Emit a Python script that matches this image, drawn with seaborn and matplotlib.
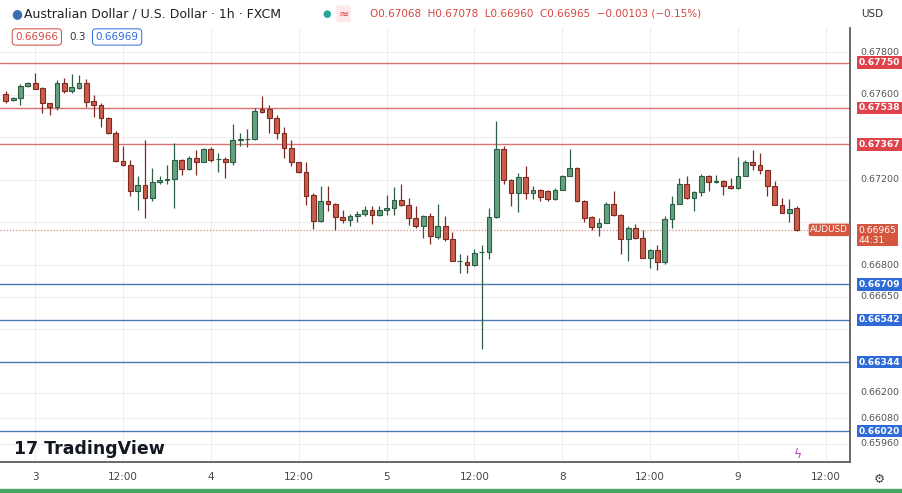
import matplotlib
matplotlib.use("Agg")
import matplotlib.pyplot as plt
import numpy as np
import seaborn as sns

# hourly OHLC, AUD/USD, FXCM
opens = [0.67603, 0.67573, 0.67583, 0.67640, 0.67656, 0.67629, 0.67559, 0.67544, 0.67653, 0.67618,
         0.67631, 0.67653, 0.67569, 0.67551, 0.67489, 0.67419, 0.67289, 0.67269, 0.67146, 0.67177,
         0.67115, 0.67188, 0.67200, 0.67204, 0.67294, 0.67250, 0.67303, 0.67286, 0.67344, 0.67297,
         0.67297, 0.67282, 0.67385, 0.67391, 0.67391, 0.67531, 0.67531, 0.67489, 0.67422, 0.67349,
         0.67282, 0.67235, 0.67130, 0.67005, 0.67101, 0.67088, 0.67026, 0.67010, 0.67032, 0.67041,
         0.67057, 0.67035, 0.67057, 0.67068, 0.67107, 0.67080, 0.67021, 0.66982, 0.67032, 0.66932,
         0.66982, 0.66923, 0.66818, 0.66815, 0.66800, 0.66860, 0.66860, 0.67026, 0.67344, 0.67201,
         0.67138, 0.67213, 0.67138, 0.67154, 0.67149, 0.67110, 0.67154, 0.67219, 0.67255, 0.67099,
         0.67026, 0.66979, 0.66998, 0.67088, 0.67035, 0.66923, 0.66974, 0.66928, 0.66834, 0.66870,
         0.66815, 0.67017, 0.67088, 0.67180, 0.67115, 0.67143, 0.67219, 0.67191, 0.67194, 0.67169,
         0.67162, 0.67219, 0.67282, 0.67269, 0.67244, 0.67169, 0.67084, 0.67045, 0.67068]
highs = [0.67618, 0.67587, 0.67650, 0.67659, 0.67700, 0.67637, 0.67562, 0.67668, 0.67676, 0.67696,
         0.67692, 0.67672, 0.67598, 0.67559, 0.67494, 0.67427, 0.67360, 0.67294, 0.67216, 0.67388,
         0.67255, 0.67216, 0.67271, 0.67372, 0.67297, 0.67310, 0.67341, 0.67349, 0.67353, 0.67328,
         0.67306, 0.67462, 0.67419, 0.67438, 0.67536, 0.67594, 0.67551, 0.67505, 0.67450, 0.67388,
         0.67286, 0.67282, 0.67138, 0.67172, 0.67169, 0.67091, 0.67060, 0.67041, 0.67052, 0.67076,
         0.67079, 0.67076, 0.67130, 0.67166, 0.67182, 0.67115, 0.67076, 0.67037, 0.67044, 0.67088,
         0.67029, 0.66954, 0.66854, 0.66845, 0.66876, 0.66893, 0.67068, 0.67474, 0.67360, 0.67204,
         0.67232, 0.67266, 0.67173, 0.67157, 0.67154, 0.67162, 0.67224, 0.67344, 0.67258, 0.67107,
         0.67032, 0.67021, 0.67095, 0.67146, 0.67038, 0.66985, 0.66992, 0.66963, 0.66876, 0.66892,
         0.67029, 0.67123, 0.67208, 0.67216, 0.67148, 0.67229, 0.67222, 0.67224, 0.67197, 0.67208,
         0.67307, 0.67291, 0.67341, 0.67325, 0.67247, 0.67193, 0.67115, 0.67110, 0.67078]
lows = [0.67562, 0.67569, 0.67551, 0.67637, 0.67625, 0.67515, 0.67505, 0.67528, 0.67609, 0.67606,
        0.67628, 0.67544, 0.67494, 0.67450, 0.67416, 0.67286, 0.67263, 0.67122, 0.67060, 0.67021,
        0.67099, 0.67182, 0.67182, 0.67068, 0.67224, 0.67244, 0.67224, 0.67282, 0.67282, 0.67235,
        0.67208, 0.67271, 0.67360, 0.67356, 0.67388, 0.67512, 0.67422, 0.67391, 0.67302, 0.67266,
        0.67232, 0.67083, 0.66970, 0.67001, 0.67052, 0.66963, 0.66998, 0.66982, 0.67001, 0.67029,
        0.66993, 0.67032, 0.67037, 0.67035, 0.67076, 0.66990, 0.66974, 0.66927, 0.66899, 0.66923,
        0.66912, 0.66818, 0.66764, 0.66764, 0.66797, 0.66405, 0.66829, 0.67021, 0.67182, 0.67076,
        0.67048, 0.67110, 0.67110, 0.67099, 0.67099, 0.67107, 0.67151, 0.67216, 0.67096, 0.67001,
        0.66963, 0.66938, 0.66995, 0.67032, 0.66850, 0.66818, 0.66924, 0.66831, 0.66787, 0.66776,
        0.66803, 0.66974, 0.67085, 0.67112, 0.67052, 0.67123, 0.67146, 0.67185, 0.67130, 0.67158,
        0.67158, 0.67216, 0.67247, 0.67229, 0.67123, 0.67080, 0.67042, 0.67001, 0.66960]
closes = [0.67572, 0.67583, 0.67640, 0.67656, 0.67628, 0.67559, 0.67544, 0.67653, 0.67618, 0.67634,
          0.67653, 0.67567, 0.67551, 0.67489, 0.67419, 0.67289, 0.67269, 0.67146, 0.67177, 0.67115,
          0.67188, 0.67200, 0.67204, 0.67294, 0.67250, 0.67303, 0.67286, 0.67344, 0.67294, 0.67297,
          0.67285, 0.67385, 0.67391, 0.67391, 0.67523, 0.67520, 0.67489, 0.67422, 0.67349, 0.67282,
          0.67235, 0.67126, 0.67005, 0.67101, 0.67088, 0.67026, 0.67010, 0.67032, 0.67041, 0.67060,
          0.67035, 0.67057, 0.67068, 0.67107, 0.67080, 0.67021, 0.66982, 0.67032, 0.66935, 0.66982,
          0.66923, 0.66818, 0.66818, 0.66800, 0.66857, 0.66860, 0.67026, 0.67344, 0.67201, 0.67138,
          0.67213, 0.67138, 0.67154, 0.67119, 0.67110, 0.67154, 0.67219, 0.67255, 0.67099, 0.67021,
          0.66979, 0.66998, 0.67088, 0.67035, 0.66923, 0.66974, 0.66928, 0.66834, 0.66870, 0.66815,
          0.67017, 0.67088, 0.67180, 0.67115, 0.67143, 0.67219, 0.67188, 0.67191, 0.67169, 0.67162,
          0.67219, 0.67282, 0.67269, 0.67244, 0.67169, 0.67084, 0.67045, 0.67065, 0.66965]

resistance = [0.67750, 0.67538, 0.67367]
support = [0.66709, 0.66542, 0.66344, 0.66020]
last_price = 0.66965
# tick labels that sit clear of the level tags
y_ticks = [0.67800, 0.67600, 0.67200, 0.66800, 0.66650, 0.66200, 0.66080, 0.65960]
grid_levels = [0.67800, 0.67600, 0.67400, 0.67200, 0.67000, 0.66800, 0.66650, 0.66500,
               0.66200, 0.66080, 0.65960]
x_tick_pos = [4, 16, 28, 40, 52, 64, 76, 88, 100, 112]
x_tick_labels = ["3", "12:00", "4", "12:00", "5", "12:00", "8", "12:00", "9", "12:00"]

UP, UP_EDGE = "#64a180", "#2d5e44"
DOWN, DOWN_EDGE = "#c95c4a", "#7d2b20"
RED_LINE, BLUE_LINE = "#d9736f", "#4a76b8"
RED_TAG, BLUE_TAG = "#e0424c", "#2e6bd8"

sns.set_theme(style="white")
plt.rcParams["font.family"] = ["DejaVu Sans"]

fig = plt.figure(figsize=(9.02, 4.93), dpi=100)
ax = fig.add_axes([0, 31 / 493, 850 / 902, 434 / 493])

o = np.array(opens)
c = np.array(closes)
h = np.array(highs)
l = np.array(lows)
idx = np.arange(len(o))
up = c >= o

ax.vlines(idx[up], l[up], h[up], color=UP_EDGE, lw=0.9, zorder=3)
ax.vlines(idx[~up], l[~up], h[~up], color=DOWN_EDGE, lw=0.9, zorder=3)
body_lo = np.minimum(o, c)
body_h = np.maximum(np.abs(c - o), 0.000012)
ax.bar(idx[up], body_h[up], bottom=body_lo[up], width=0.65, color=UP,
       edgecolor=UP_EDGE, lw=0.8, zorder=4)
ax.bar(idx[~up], body_h[~up], bottom=body_lo[~up], width=0.65, color=DOWN,
       edgecolor=DOWN_EDGE, lw=0.8, zorder=4)

for p in resistance:
    ax.axhline(p, color=RED_LINE, lw=1.0, zorder=2)
for p in support:
    ax.axhline(p, color=BLUE_LINE, lw=1.0, zorder=2)
ax.axhline(last_price, color="#d98b80", lw=0.9, ls=(0, (1, 1.5)), zorder=2)

for p in grid_levels:
    ax.axhline(p, color="#eeeeee", lw=0.8, zorder=1)
for x in x_tick_pos:
    ax.axvline(x, color="#eeeeee", lw=0.8, zorder=1)

ax.set_xlim(-0.8, 115.3)
ax.set_ylim(0.65875, 0.67913)
ax.set_xticks([])
ax.set_yticks([])
for s in ["top", "left"]:
    ax.spines[s].set_visible(False)
ax.spines["right"].set_color("#555555")
ax.spines["bottom"].set_color("#555555")

# right price scale
tr = ax.get_yaxis_transform()
for p in y_ticks:
    ax.text(1.012, p, f"{p:.5f}", transform=tr, fontsize=6.8, color="#555555",
            va="center", ha="left", clip_on=False)
for p in resistance:
    ax.text(1.01, p, f"{p:.5f}", transform=tr, fontsize=6.6, color="white", va="center",
            ha="left", fontweight="bold", clip_on=False,
            bbox=dict(boxstyle="square,pad=0.2", fc=RED_TAG, ec="none"))
for p in support:
    ax.text(1.01, p, f"{p:.5f}", transform=tr, fontsize=6.6, color="white", va="center",
            ha="left", fontweight="bold", clip_on=False,
            bbox=dict(boxstyle="square,pad=0.2", fc=BLUE_TAG, ec="none"))
ax.text(1.01, last_price - 0.00025, f"{last_price:.5f}\n44:31", transform=tr, fontsize=6.6,
        color="white", va="center", ha="left", clip_on=False, linespacing=1.1,
        bbox=dict(boxstyle="square,pad=0.2", fc="#d4563f", ec="none"))
ax.text(0.998, last_price, "AUDUSD", transform=tr, fontsize=6.3, color="white",
        va="center", ha="right", clip_on=False,
        bbox=dict(boxstyle="round,pad=0.2", fc="#d4563f", ec="none"))

# time axis
xt = ax.get_xaxis_transform()
for x, lab in zip(x_tick_pos, x_tick_labels):
    ax.text(x, -0.035, lab, transform=xt, fontsize=7.5, color="#444444",
            ha="center", va="center", clip_on=False)

# header
fig.text(0.027, 0.972, "Australian Dollar / U.S. Dollar · 1h · FXCM", fontsize=9,
         color="#222222", va="center")
fig.text(0.012, 0.972, "●", fontsize=9, color="#3b6fb0", va="center")
fig.text(0.357, 0.972, "●", fontsize=7, color="#26a69a", va="center")
fig.text(0.375, 0.972, "≈", fontsize=9, color="#e0424c", va="center",
         bbox=dict(boxstyle="round,pad=0.15", fc="#fde8e8", ec="none"))
fig.text(0.41, 0.972, "O0.67068  H0.67078  L0.66960  C0.66965  −0.00103 (−0.15%)",
         fontsize=7.5, color="#d4463f", va="center")
fig.text(0.017, 0.925, "0.66966", fontsize=7.5, color="#d4463f", va="center",
         bbox=dict(boxstyle="round,pad=0.3", fc="white", ec="#d4463f", lw=0.7))
fig.text(0.077, 0.925, "0.3", fontsize=7.5, color="#333333", va="center")
fig.text(0.106, 0.925, "0.66969", fontsize=7.5, color="#2e6bd8", va="center",
         bbox=dict(boxstyle="round,pad=0.3", fc="white", ec="#2e6bd8", lw=0.7))
fig.text(0.955, 0.972, "USD", fontsize=7.5, color="#333333", va="center")
fig.text(0.015, 0.09, "17 TradingView", fontsize=12.5, color="#131722",
         fontweight="bold", va="center")
fig.text(0.885, 0.078, "ϟ", fontsize=9, color="#c040c0", va="center", ha="center")
fig.text(0.975, 0.028, "⚙", fontsize=9, color="#444444", va="center", ha="center")
fig.patches.append(plt.Rectangle((0, 0), 1, 0.008, transform=fig.transFigure,
                                 color="#4aa564", figure=fig))

fig.savefig("out.png", dpi=100)
